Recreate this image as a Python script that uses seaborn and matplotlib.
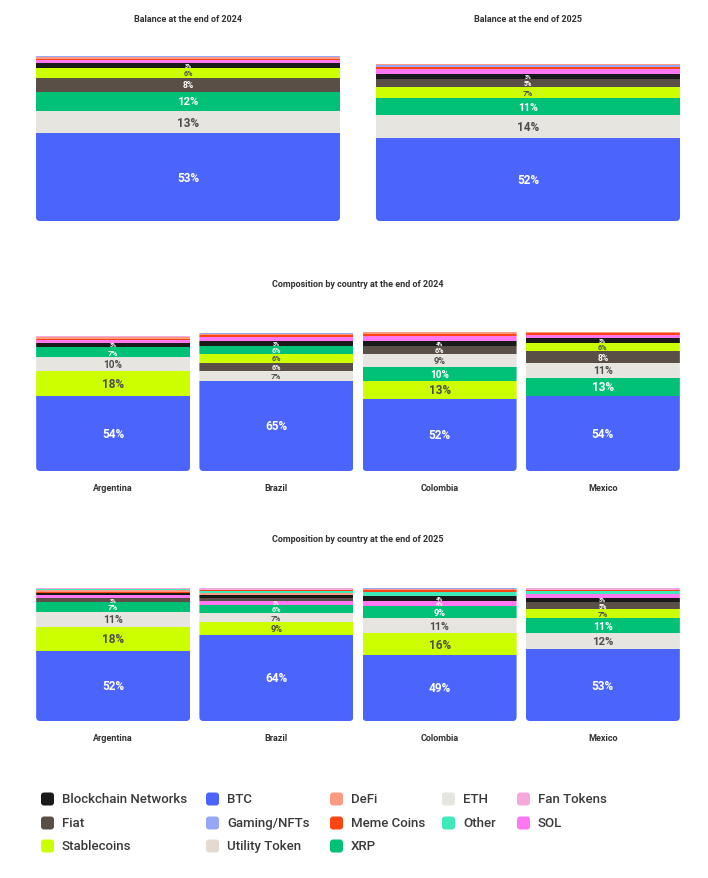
import matplotlib
matplotlib.use("Agg")
import matplotlib.pyplot as plt
from matplotlib.patches import FancyBboxPatch
from matplotlib.transforms import IdentityTransform
import seaborn as sns

categories = ["Blockchain Networks", "BTC", "DeFi", "ETH", "Fan Tokens", "Fiat",
              "Gaming/NFTs", "Meme Coins", "Other", "SOL", "Stablecoins",
              "Utility Token", "XRP"]
colors = ["#1a1a1a", "#4b64fb", "#ff9a82", "#e6e5e0", "#f5a8dc", "#5a4f46",
          "#98a6f8", "#ff4514", "#40e9b9", "#ff78f2", "#ccff00",
          "#e4dad1", "#00c176"]

# values in the order of `categories`
balance_2024 = [3.4, 53, 1.0, 13, 0, 8, 0.6, 1.1, 0, 1.3, 6, 0, 12]
balance_2025 = [3.0, 52, 0.9, 14, 0, 5, 1.0, 1.6, 0, 2.8, 7, 0, 11]

countries = ["Argentina", "Brazil", "Colombia", "Mexico"]
argentina_2024 = [3.4, 54, 1.1, 10, 1.0, 0, 0, 1.3, 0, 1.5, 18, 0, 7]
brazil_2024 = [3.4, 65, 1.0, 7, 0, 6, 0.5, 1.5, 0, 3.0, 6, 0, 6]
colombia_2024 = [3.8, 52, 1.0, 9, 0, 6, 0, 1.6, 0, 3.4, 13, 0, 10]
mexico_2024 = [3.4, 54, 1.0, 11, 0, 8, 0.5, 1.5, 0, 2.6, 6, 0, 13]
argentina_2025 = [1.5, 52, 1.0, 11, 0.9, 3, 0, 1.2, 1.0, 2.0, 18, 0, 7]
brazil_2025 = [2.0, 64, 1.5, 7, 1.0, 2.4, 0, 1.2, 1.3, 3.0, 9, 0, 6]
colombia_2025 = [3.7, 49, 0.9, 11, 0, 0, 0.8, 1.2, 2.8, 4.0, 16, 0, 9]
mexico_2025 = [3.4, 53, 0, 12, 1.0, 5, 0, 1.2, 2.2, 2.6, 7, 0, 11]

dark_text = {"ETH", "Stablecoins", "Utility Token", "DeFi", "Fan Tokens", "Gaming/NFTs"}

sns.set_theme(style="white")
plt.rcParams["font.family"] = ["Roboto", "DejaVu Sans"]

W, H = 708, 879
fig = plt.figure(figsize=(W / 100, H / 100), dpi=100)


def px_axes(left, top, right, bottom):
    return fig.add_axes([left / W, 1 - bottom / H, (right - left) / W, (bottom - top) / H])


def draw_stack(ax, names, rows, width):
    for i, (name, vals) in enumerate(zip(names, rows)):
        segs = sorted(zip(categories, vals, colors), key=lambda s: -s[1])
        bottom = 0
        for rank, (cat, v, col) in enumerate(segs):
            if v <= 0:
                continue
            sns.barplot(x=[name], y=[v], order=names, bottom=bottom, color=col,
                        saturation=1, width=width, errorbar=None, linewidth=0, ax=ax)
            # only the six biggest pieces carry a label
            if rank < 6 and v >= 2.5:
                fs = min(8.5, 2.2 + 0.5 * v)
                tc = "#4d4d4d" if cat in dark_text else "white"
                ax.text(i, bottom + v / 2, f"{round(v)}%", ha="center", va="center",
                        fontsize=fs, color=tc, fontweight="bold")
            bottom += v
    ax.set_ylim(0, 100)
    ax.set_xlim(-0.5, len(names) - 0.5)
    ax.set_xlabel("")
    ax.set_ylabel("")
    ax.set_yticks([])
    sns.despine(ax=ax, left=True, bottom=True)
    ax.tick_params(axis="x", length=0, pad=9, labelsize=6.5, labelcolor="#333333")
    for t in ax.get_xticklabels():
        t.set_fontweight("bold")
    # round the lower corners of each bar
    y0 = ax.transData.transform((0, 0))[1]
    for p in ax.patches:
        bb = p.get_window_extent()
        clip = FancyBboxPatch((bb.x0, y0), bb.width, 400,
                              boxstyle="round,pad=0,rounding_size=4",
                              transform=IdentityTransform())
        p.set_clip_path(clip)


title_kw = dict(ha="center", va="center", fontsize=6.5, fontweight="bold", color="#333333")

# top balances
ax1 = px_axes(36, 56, 340, 222)
draw_stack(ax1, ["2024"], [balance_2024], 1.0)
ax1.set_xticks([])
ax2 = px_axes(376, 62, 680, 222)
draw_stack(ax2, ["2025"], [balance_2025], 1.0)
ax2.set_xticks([])
fig.text(188 / W, 1 - 20 / H, "Balance at the end of 2024", **title_kw)
fig.text(528 / W, 1 - 20 / H, "Balance at the end of 2025", **title_kw)

# countries 2024
ax3 = px_axes(31.5, 333, 684.5, 472)
draw_stack(ax3, countries, [argentina_2024, brazil_2024, colombia_2024, mexico_2024], 0.943)
fig.text(358 / W, 1 - 285 / H, "Composition by country at the end of 2024", **title_kw)

# countries 2025
ax4 = px_axes(31.5, 587, 684.5, 722)
draw_stack(ax4, countries, [argentina_2025, brazil_2025, colombia_2025, mexico_2025], 0.943)
fig.text(358 / W, 1 - 540 / H, "Composition by country at the end of 2025", **title_kw)

# legend, laid out row by row like the original
lg = fig.add_axes([0, 0, 1, 1])
lg.set_xlim(0, W)
lg.set_ylim(H, 0)
lg.axis("off")
col_x = [41, 206, 330, 442, 517]
row_y = [800, 824, 847]
for k, (cat, col) in enumerate(zip(categories, colors)):
    r, c = divmod(k, 5)
    x, y = col_x[c], row_y[r]
    lg.add_patch(FancyBboxPatch((x, y - 6.5), 13, 13, boxstyle="round,pad=0,rounding_size=3",
                                facecolor=col, edgecolor="none"))
    lg.text(x + 21, y, cat, ha="left", va="center", fontsize=9.5, color="#3a3a3a",
            fontweight="medium")

fig.savefig("out.png", dpi=100, facecolor="white")
